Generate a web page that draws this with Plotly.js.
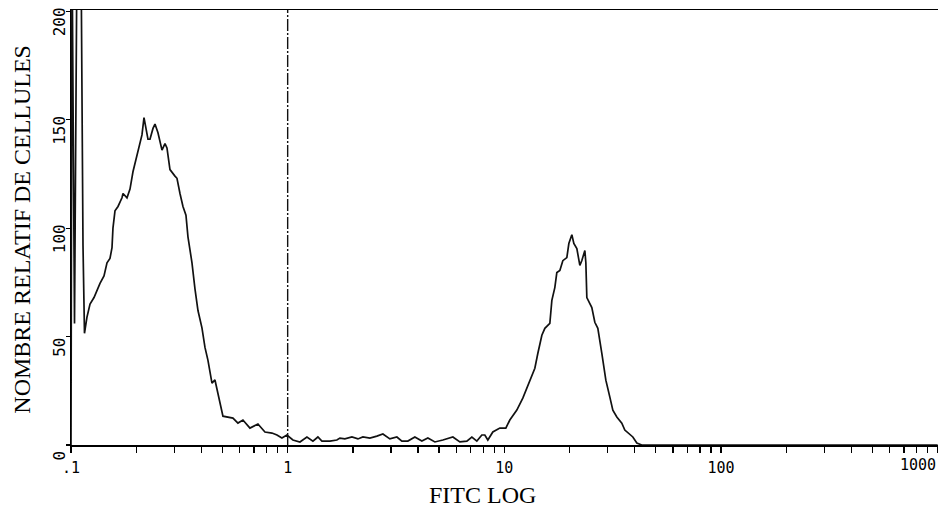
<!DOCTYPE html>
<html>
<head>
<meta charset="utf-8">
<script src="https://cdn.plot.ly/plotly-3.0.1.min.js"></script>
<style>html,body{margin:0;padding:0;background:#fff;}#chart{width:938px;height:510px;}</style>
</head>
<body>
<div id="chart"></div>
<script>
// FITC intensity (log scale) of each histogram point
const fitc = [
  0.1000, 0.1011, 0.1038, 0.1066, 0.1112, 0.1124, 0.1136, 0.1154, 0.1185, 0.1224,
  0.1277, 0.1361, 0.1420, 0.1466, 0.1513, 0.1546, 0.1562, 0.1596, 0.1648, 0.1719,
  0.1738, 0.1813, 0.1872, 0.1932, 0.2016, 0.2082, 0.2126, 0.2172, 0.2219, 0.2266,
  0.2315, 0.2390, 0.2441, 0.2520, 0.2630, 0.2715, 0.2773, 0.2863, 0.3019, 0.3084,
  0.3184, 0.3287, 0.3393, 0.3466, 0.3541, 0.3617, 0.3734, 0.3855, 0.4022, 0.4153,
  0.4287, 0.4473, 0.4618, 0.4768, 0.5027, 0.5590, 0.5895, 0.6217, 0.6697, 0.7291,
  0.7855, 0.8463, 0.8924, 0.9406, 0.9921, 1.057, 1.139, 1.227, 1.308, 1.379,
  1.439, 1.567, 1.687, 1.742, 1.837, 1.979, 2.110, 2.224, 2.396, 2.581,
  2.751, 2.963, 3.192, 3.366, 3.587, 3.864, 4.163, 4.437, 4.780, 5.203,
  5.787, 6.234, 6.715, 7.081, 7.467, 7.873, 8.128, 8.392, 8.849, 9.534,
  10.16, 10.60, 11.42, 12.17, 13.11, 13.83, 14.28, 14.90, 15.38, 16.22,
  16.57, 17.10, 17.47, 18.04, 18.62, 19.43, 19.85, 20.49, 20.93, 21.61,
  22.31, 22.79, 23.53, 23.78, 24.03, 25.34, 26.16, 27.01, 28.18, 29.41,
  30.69, 31.68, 33.05, 34.85, 35.98, 37.95, 39.18, 40.88, 43.10, 100,
  1000
];
// relative number of cells at each point
const cells = [
  0, 230, 56, 230, 230, 150, 92, 51.5, 59, 65,
  68, 74.5, 78, 84, 86, 91, 100, 108, 110, 114,
  116, 114, 118, 126, 134, 140, 143, 151, 145, 141,
  141, 146, 148, 144, 136, 139, 137, 127, 124, 123,
  116, 110, 106, 96, 90, 84, 72, 62, 54, 45,
  39, 28.5, 30, 24, 13.3, 12.4, 10.1, 11.5, 7.8, 9.7,
  6, 5.5, 4.6, 3.2, 4.6, 2.3, 1.4, 3.7, 1.8, 3.7,
  1.8, 1.8, 2.3, 3.2, 2.8, 3.7, 2.8, 3.7, 3.2, 4.1,
  5.1, 2.8, 3.7, 1.8, 1.8, 3.7, 1.8, 3.2, 1.4, 2.3,
  3.7, 1.4, 1.8, 3.7, 1.8, 4.6, 4.6, 2.3, 6, 7.8,
  7.8, 11.5, 16.1, 21.6, 29.9, 35.4, 42.3, 50.6, 53.8, 56.1,
  66.7, 72.6, 79.5, 80.5, 85, 86.4, 92.9, 97, 92.9, 90.6,
  82.8, 85.1, 89.7, 84.1, 68, 63.4, 56.6, 53.8, 42.3, 29.9,
  22.1, 16.1, 12.9, 10.1, 6.9, 4.6, 3.7, 0.9, 0, 0,
  0
];
const xTickVals = [0.1, 1, 10, 100, 1000];
const xTickLabels = ['.1', '1', '10', '100', '1000'];
const yTickVals = [0, 50, 100, 150, 200];
const yTickLabels = ['0', '50', '100', '150', '200'];
const gateAt = 1;
const xTitle = 'FITC LOG';
const yTitle = 'NOMBRE RELATIF DE CELLULES';

// minor log ticks 2..9 inside each decade
const xMinorVals = [];
for (let i = 0; i < xTickVals.length - 1; i++) {
  for (let k = 2; k <= 9; k++) xMinorVals.push(xTickVals[i] * k);
}

const last = xTickLabels.length - 1;
// the last label sits at the page edge: draw it right-aligned to its tick so it stays whole
const xTickText = xTickLabels.map((t, i) => i === last ? '' : t);

const mono = 'DejaVu Sans Mono, Liberation Mono, monospace';
const serif = 'Liberation Serif, Times New Roman, serif';

const trace = {
  x: fitc, y: cells, type: 'scatter', mode: 'lines',
  line: {color: '#111', width: 1.7, shape: 'linear'},
  hoverinfo: 'x+y', showlegend: false
};

const layout = {
  width: 938, height: 510,
  margin: {l: 71, r: 0, t: 10, b: 65, pad: 0},
  paper_bgcolor: '#fff', plot_bgcolor: '#fff',
  showlegend: false,
  xaxis: {
    type: 'log', range: [-1, 3.0015], autorange: false,
    showgrid: false, zeroline: false,
    showline: true, linecolor: '#000', linewidth: 1.5, mirror: true,
    tickmode: 'array', tickvals: xTickVals, ticktext: xTickText,
    ticks: 'outside', ticklen: 6, tickwidth: 1.3, tickcolor: '#000',
    ticklabelstandoff: 2,
    tickfont: {family: mono, size: 15, color: '#000'},
    minor: {tickmode: 'array', tickvals: xMinorVals, ticks: 'outside', ticklen: 6,
            tickwidth: 1.3, tickcolor: '#000', showgrid: false},
    automargin: false
  },
  yaxis: {
    range: [0, 200.6], autorange: false,
    showgrid: false, zeroline: false,
    showline: true, linecolor: '#000', linewidth: 1.5, mirror: false,
    tickmode: 'array', tickvals: yTickVals, ticktext: yTickLabels,
    ticks: 'outside', ticklen: 4, tickwidth: 1.2, tickcolor: '#000',
    tickangle: -90, ticklabelshift: 13, ticklabelstandoff: -6,
    tickfont: {family: mono, size: 16, color: '#000'},
    automargin: false
  },
  shapes: [{
    type: 'line', xref: 'x', yref: 'paper',
    x0: gateAt, x1: gateAt, y0: 0, y1: 1,
    line: {color: '#111', width: 1.4, dash: '12px,2px,2px,2px'}
  }],
  annotations: [
    {text: xTickLabels[last], xref: 'x', yref: 'paper',
     x: Math.log10(xTickVals[last]), y: -0.047,
     xanchor: 'right', yanchor: 'middle', showarrow: false,
     font: {family: mono, size: 15, color: '#000'}},
    {text: xTitle, xref: 'paper', yref: 'paper', x: 0.475, y: -0.115,
     xanchor: 'center', yanchor: 'middle', showarrow: false,
     font: {family: serif, size: 24, color: '#000'}},
    {text: yTitle, xref: 'paper', yref: 'paper', x: -0.0565, y: 0.495,
     xanchor: 'center', yanchor: 'middle', showarrow: false, textangle: -90,
     font: {family: serif, size: 24, color: '#000'}}
  ]
};

Plotly.newPlot('chart', [trace], layout, {displayModeBar: false, staticPlot: true});
</script>
</body>
</html>
